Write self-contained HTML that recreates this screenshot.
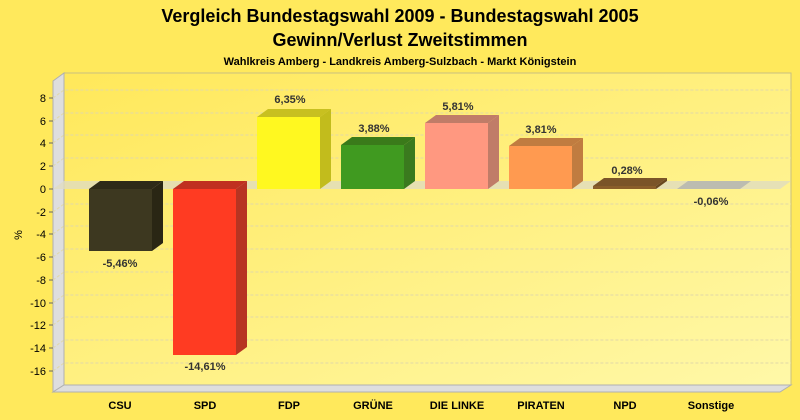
<!DOCTYPE html>
<html><head><meta charset="utf-8"><style>
html,body{margin:0;padding:0;background:#FFE95C;}
svg{display:block;font-family:"Liberation Sans",sans-serif;}
</style></head><body>
<svg width="800" height="420" viewBox="0 0 800 420" xmlns="http://www.w3.org/2000/svg">
<defs>
<linearGradient id="bg" x1="0" y1="0" x2="1" y2="1">
<stop offset="0" stop-color="#FFE85A"/><stop offset="1" stop-color="#FFF8A8"/>
</linearGradient>
</defs>
<rect width="800" height="420" fill="#FFE95C"/>
<text x="400" y="22" text-anchor="middle" font-size="18" font-weight="bold" fill="#000">Vergleich Bundestagswahl 2009 - Bundestagswahl 2005</text>
<text x="400" y="46" text-anchor="middle" font-size="18" font-weight="bold" fill="#000">Gewinn/Verlust Zweitstimmen</text>
<text x="400" y="65" text-anchor="middle" font-size="11" font-weight="bold" fill="#000">Wahlkreis Amberg - Landkreis Amberg-Sulzbach - Markt Königstein</text>
<rect x="64" y="73" width="727" height="312" fill="url(#bg)" stroke="#c8c080" stroke-width="1"/>
<polygon points="53,81 64,73 64,385 53,392" fill="#dedede" stroke="#b0b0b0" stroke-width="1"/>
<polygon points="53,392 64,385 791,385 780,392" fill="#dedede" stroke="#b0b0b0" stroke-width="1"/>
<g stroke="#e0d8a8" stroke-dasharray="3,2" fill="none">
<path d="M53,98 L64,90 H791 M53,121 L64,113 H791 M53,143 L64,135 H791 M53,166 L64,158 H791 M53,212 L64,204 H791 M53,234 L64,226 H791 M53,257 L64,249 H791 M53,280 L64,272 H791 M53,303 L64,295 H791 M53,325 L64,317 H791 M53,348 L64,340 H791 M53,371 L64,363 H791"/>
</g>
<polygon points="53,189 64,181 791,181 780,189" fill="#e0dcc0" opacity="0.8"/>
<g font-size="11" fill="#000" text-anchor="end">
<text x="46" y="102">8</text><text x="46" y="125">6</text><text x="46" y="147">4</text><text x="46" y="170">2</text><text x="46" y="193">0</text>
<text x="46" y="216">-2</text><text x="46" y="238">-4</text><text x="46" y="261">-6</text><text x="46" y="284">-8</text>
<text x="46" y="307">-10</text><text x="46" y="329">-12</text><text x="46" y="352">-14</text><text x="46" y="375">-16</text>
</g>
<g stroke="#666"><path d="M49,98H53M49,121H53M49,143H53M49,166H53M49,189H53M49,212H53M49,234H53M49,257H53M49,280H53M49,303H53M49,325H53M49,348H53M49,371H53"/></g>
<text x="22" y="235" font-size="11" fill="#000" transform="rotate(-90 22 235)" text-anchor="middle">%</text>
<polygon points="89,189 100,181 163,181 152,189" fill="#2e2a18"/>
<polygon points="152,189 163,181 163,243 152,251" fill="#2a2614"/>
<rect x="89" y="189" width="63" height="62" fill="#3d3820"/>
<polygon points="173,189 184,181 247,181 236,189" fill="#c03020"/>
<polygon points="236,189 247,181 247,347 236,355" fill="#b83422"/>
<rect x="173" y="189" width="63" height="166" fill="#ff3b22"/>
<polygon points="257,117 268,109 331,109 320,117" fill="#c8c020"/>
<polygon points="320,117 331,109 331,181 320,189" fill="#c2bc1c"/>
<rect x="257" y="117" width="63" height="72" fill="#fff820"/>
<polygon points="341,145 352,137 415,137 404,145" fill="#3a7a1a"/>
<polygon points="404,145 415,137 415,181 404,189" fill="#3a7a1e"/>
<rect x="341" y="145" width="63" height="44" fill="#409a20"/>
<polygon points="425,123 436,115 499,115 488,123" fill="#c07c68"/>
<polygon points="488,123 499,115 499,181 488,189" fill="#c07c68"/>
<rect x="425" y="123" width="63" height="66" fill="#ff9880"/>
<polygon points="509,146 520,138 583,138 572,146" fill="#c07c40"/>
<polygon points="572,146 583,138 583,181 572,189" fill="#c07c40"/>
<rect x="509" y="146" width="63" height="43" fill="#ff9a50"/>
<polygon points="593,186 604,178 667,178 656,186" fill="#7a5428"/>
<polygon points="656,186 667,178 667,181 656,189" fill="#6a4820"/>
<rect x="593" y="186" width="63" height="3" fill="#8a5e2a"/>
<polygon points="677,189 688,181 751,181 740,189" fill="#bcbcb0"/>
<g font-size="11" font-weight="bold" fill="#333" text-anchor="middle">
<text x="120" y="267">-5,46%</text>
<text x="205" y="370">-14,61%</text>
<text x="290" y="103">6,35%</text>
<text x="374" y="132">3,88%</text>
<text x="458" y="110">5,81%</text>
<text x="541" y="133">3,81%</text>
<text x="627" y="174">0,28%</text>
<text x="711" y="205">-0,06%</text>
</g>
<g font-size="11" font-weight="bold" fill="#000" text-anchor="middle">
<text x="120" y="409">CSU</text><text x="205" y="409">SPD</text><text x="289" y="409">FDP</text><text x="373" y="409">GRÜNE</text>
<text x="457" y="409">DIE LINKE</text><text x="541" y="409">PIRATEN</text><text x="625" y="409">NPD</text><text x="711" y="409">Sonstige</text>
</g>
</svg>
</body></html>
